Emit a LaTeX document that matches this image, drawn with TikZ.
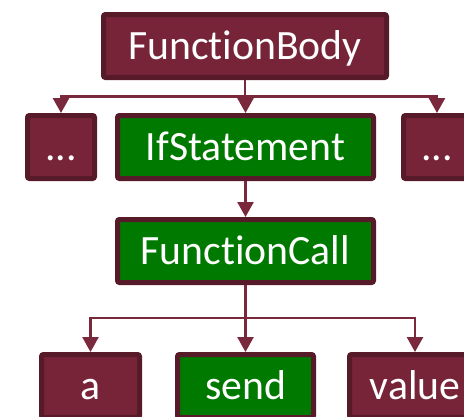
\documentclass[tikz,border=0pt]{standalone}
\usepackage{fontspec}
\setmainfont{Carlito}[Ligatures=NoCommon]
\usetikzlibrary{arrows.meta}
\definecolor{boxfill}{RGB}{119,36,57}
\definecolor{boxedge}{RGB}{87,26,40}
\definecolor{leaf}{RGB}{0,121,0}
\definecolor{wire}{RGB}{122,40,60}
\tikzset{
  treebox/.style={draw=boxedge, line width=5pt, fill=boxfill, rounded corners=2pt,
    text=white, inner sep=0pt, minimum height=63pt,
    font=\fontsize{41.7pt}{48pt}\selectfont, text height=26.9pt, text depth=0pt},
  hitbox/.style={treebox, fill=leaf},
  link/.style={draw=wire, line width=2.5pt},
  arrowlink/.style={link, -{Triangle[width=16pt,length=15pt]}}
}
\begin{document}
\begin{tikzpicture}[x=1pt,y=1pt]
\useasboundingbox (0,0) rectangle (464,-416);

% top level
\node[treebox, minimum width=283pt] (fb) at (245,-46) {FunctionBody};

% second level
\node[treebox, minimum width=67pt] (d1) at (61,-147) {...};
\node[hitbox, minimum width=256pt] (ifs) at (245.5,-147) {IfStatement};
\node[treebox, minimum width=67pt] (d2) at (437,-147) {...};

% third level
\node[hitbox, minimum width=256pt] (fc) at (245.5,-251) {FunctionCall};

% leaves
\node[treebox, minimum width=98pt] (a) at (90.5,-386) {a};
\node[hitbox, minimum width=136pt] (send) at (245.5,-386) {send};
\node[treebox, minimum width=131pt] (value) at (415,-386) {value};

% fan-out below FunctionBody
\coordinate (bus1) at (fb.south |- 0,-96.5);
\draw[link] (fb.south) -- (bus1);
\draw[arrowlink] (bus1) -| (d1.north);
\draw[arrowlink] (bus1) -| (d2.north);
\draw[arrowlink] (bus1) -- (bus1 -| ifs.north) -- (ifs.north);

% IfStatement to FunctionCall
\draw[arrowlink] (ifs.south) -- (fc.north);

% fan-out below FunctionCall
\coordinate (bus2) at (fc.south |- 0,-318);
\draw[link] (fc.south) -- (bus2);
\draw[arrowlink] (bus2) -| (a.north);
\draw[arrowlink] (bus2) -| (value.north);
\draw[arrowlink] (bus2) -- (send.north);
\end{tikzpicture}
\end{document}
